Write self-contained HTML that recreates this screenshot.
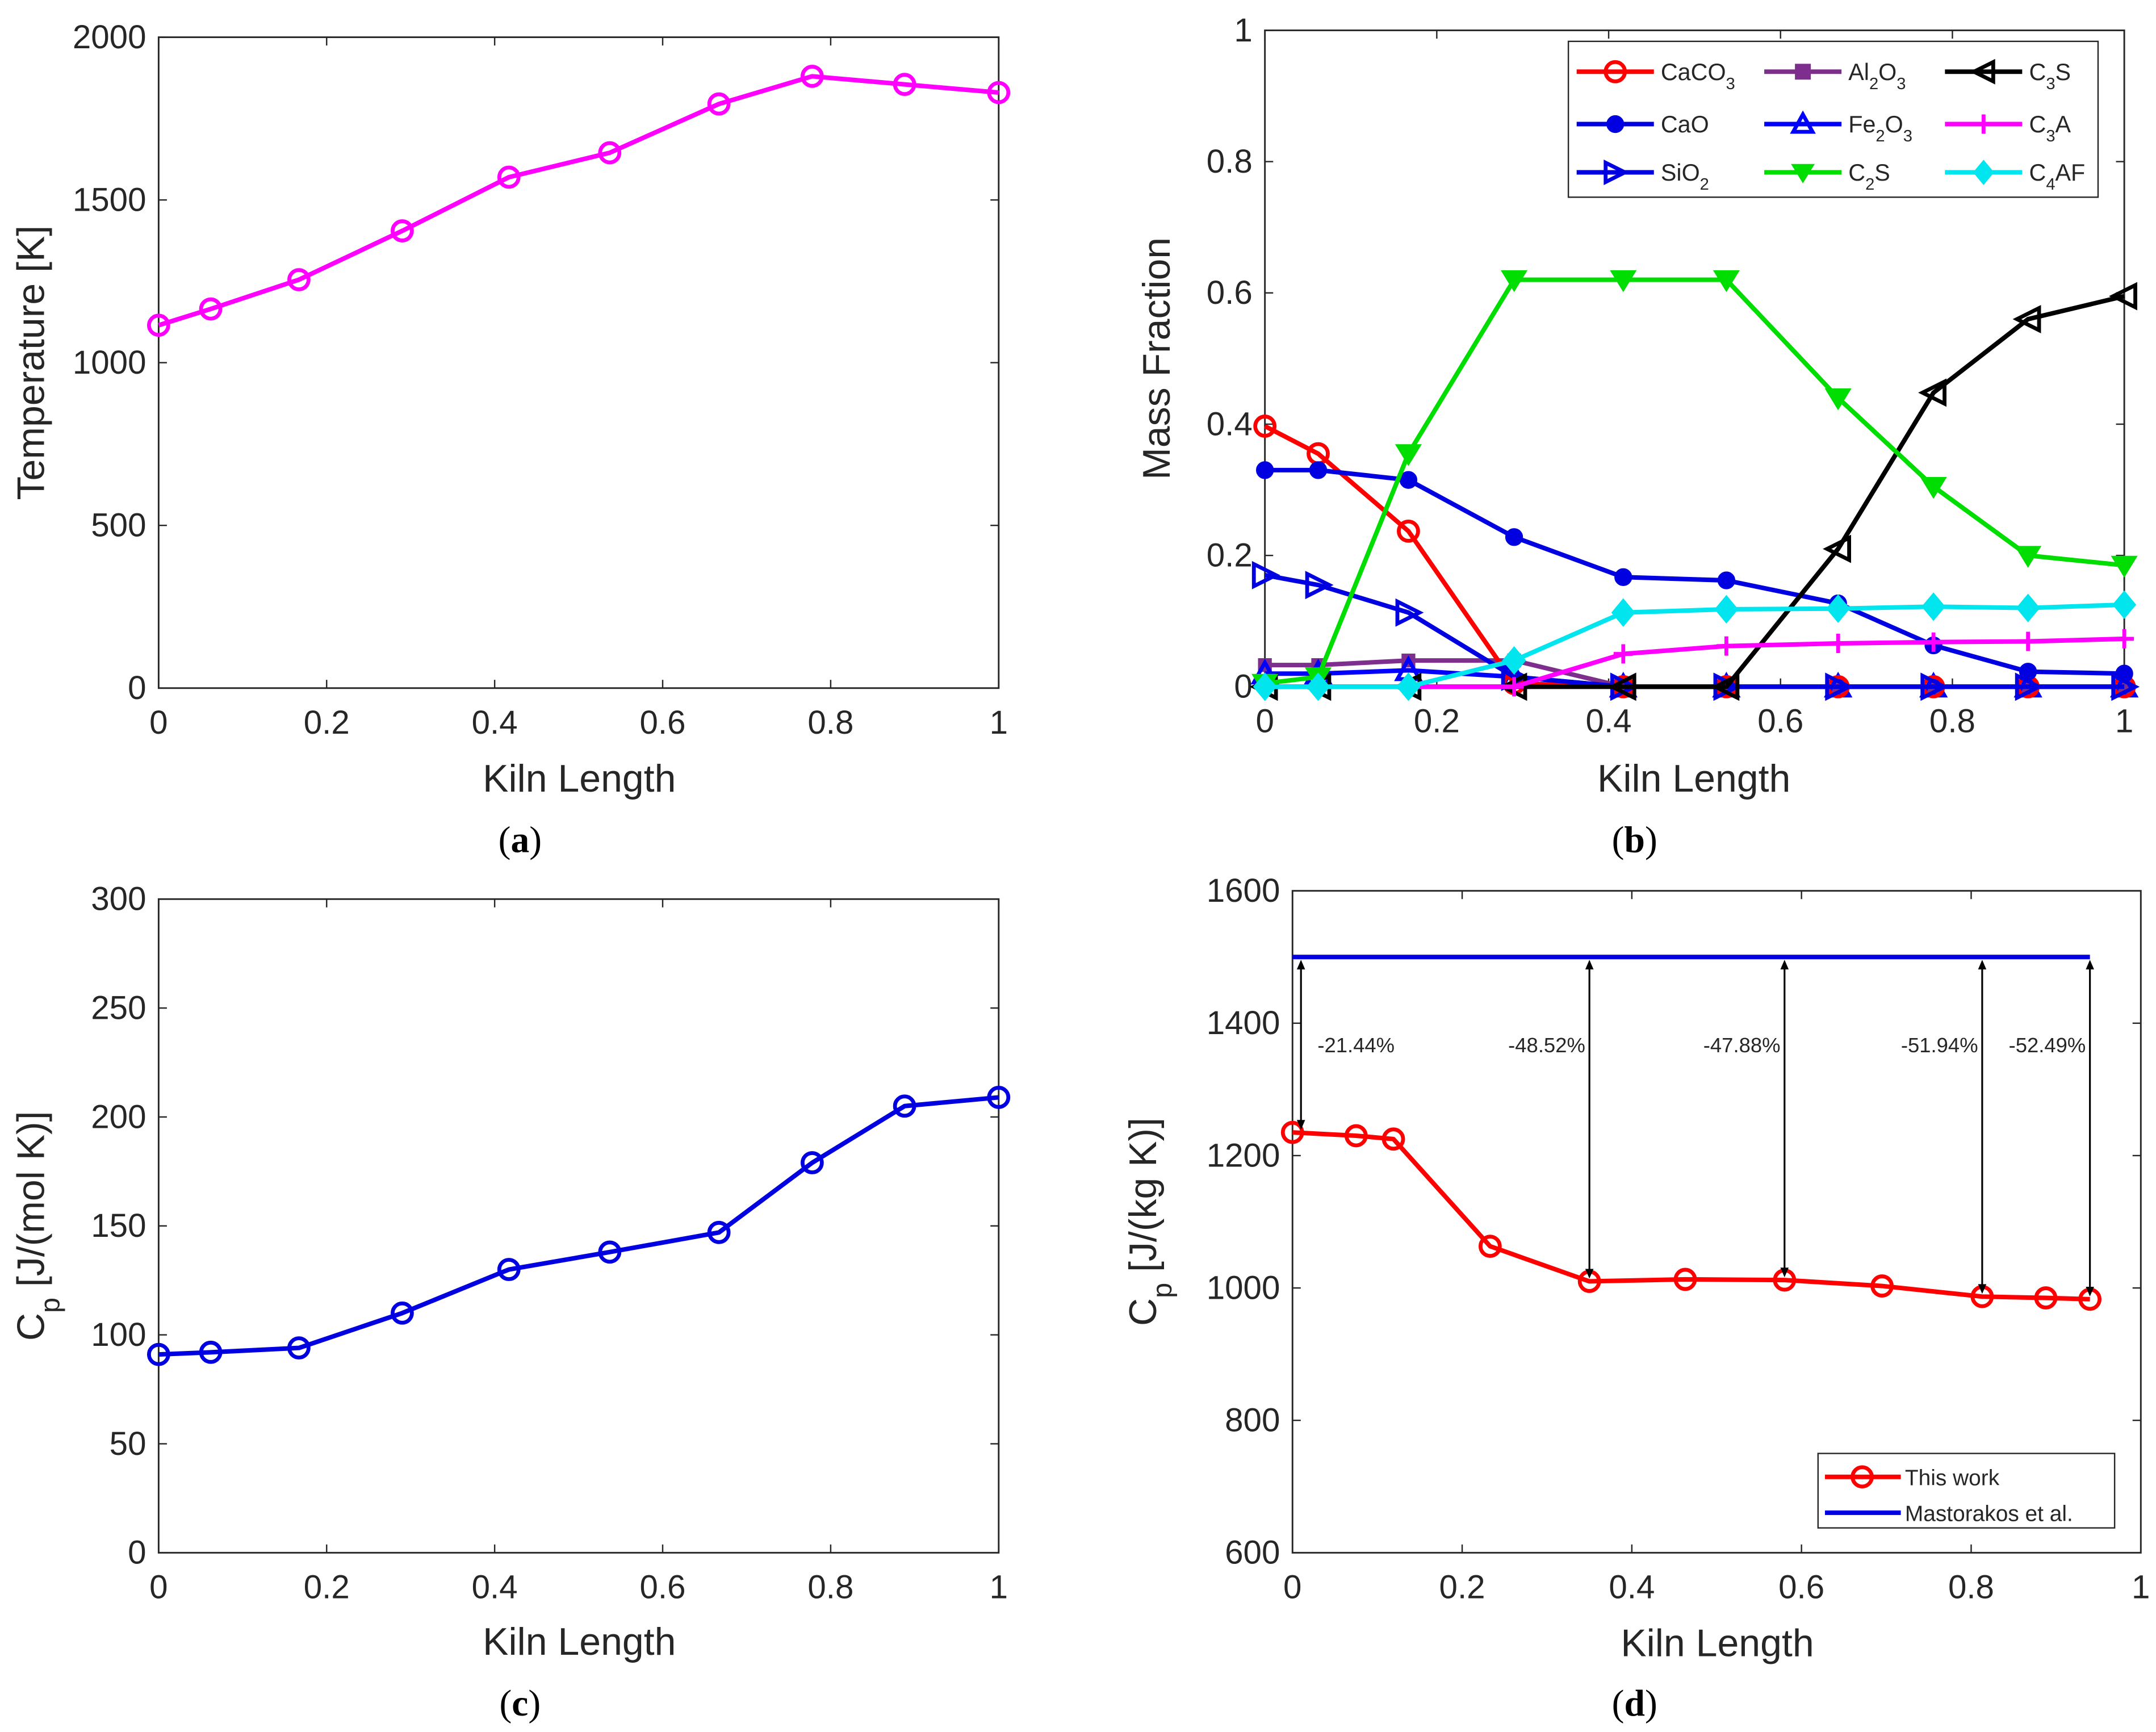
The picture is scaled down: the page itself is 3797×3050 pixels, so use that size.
<!DOCTYPE html>
<html><head><meta charset="utf-8">
<style>
html,body{margin:0;padding:0;background:#fff;}
svg{display:block;}
text{font-family:"Liberation Sans",sans-serif;fill:#262626;}
.cap{font-family:"Liberation Serif",serif;fill:#000;}
</style></head>
<body>
<svg id="fig" width="3797" height="3050" viewBox="0 0 1563 1256" preserveAspectRatio="none" xmlns="http://www.w3.org/2000/svg"></svg>
<script>
// ---- Panel (a) data ----
const xA = [0, 0.062, 0.167, 0.29, 0.417, 0.537, 0.667, 0.778, 0.888, 1];
const tempA = [1115, 1165, 1255, 1405, 1570, 1645, 1795, 1880, 1855, 1830];
const ticksA_x = [0, 0.2, 0.4, 0.6, 0.8, 1];
const ticksA_y = [0, 500, 1000, 1500, 2000];
// ---- Panel (b) data ----
const xB = [0, 0.062, 0.167, 0.29, 0.417, 0.537, 0.667, 0.778, 0.888, 1];
const caco3 = [0.397, 0.355, 0.237, 0.005, 0, 0, 0, 0, 0, 0];
const cao = [0.33, 0.33, 0.315, 0.228, 0.167, 0.162, 0.127, 0.063, 0.023, 0.02];
const sio2 = [0.17, 0.155, 0.113, 0.015, 0, 0, 0, 0, 0, 0];
const al2o3 = [0.033, 0.033, 0.04, 0.04, 0, 0, 0, 0, 0, 0];
const fe2o3 = [0.02, 0.02, 0.025, 0.015, 0, 0, 0, 0, 0, 0];
const c2s = [0.005, 0.015, 0.355, 0.62, 0.62, 0.62, 0.44, 0.305, 0.2, 0.185];
const c3s = [0, 0, 0, 0, 0, 0, 0.21, 0.448, 0.56, 0.595];
const c3a = [0, 0, 0, 0, 0.05, 0.062, 0.066, 0.068, 0.069, 0.073];
const c4af = [0, 0, 0, 0.04, 0.113, 0.118, 0.119, 0.122, 0.12, 0.125];
const ticksB_x = [0, 0.2, 0.4, 0.6, 0.8, 1];
const ticksB_y = [0, 0.2, 0.4, 0.6, 0.8, 1];
// ---- Panel (c) data ----
const xC = [0, 0.062, 0.167, 0.29, 0.417, 0.537, 0.667, 0.778, 0.888, 1];
const cpC = [91, 92, 94, 110, 130, 138, 147, 179, 205, 209];
const ticksC_y = [0, 50, 100, 150, 200, 250, 300];
// ---- Panel (d) data ----
const xD = [0, 0.075, 0.119, 0.233, 0.35, 0.463, 0.58, 0.695, 0.813, 0.888, 0.94];
const cpD = [1235, 1230, 1225, 1063, 1010, 1013, 1012, 1003, 987, 985, 983];
const refD = [1500, 1500];
const refDx = [0, 0.94];
const arrowX = [0.01, 0.35, 0.58, 0.813, 0.94];
const arrowLow = [1235, 1010, 1012, 987, 983];
const arrowLabels = ['-21.44%', '-48.52%', '-47.88%', '-51.94%', '-52.49%'];
const ticksD_x = [0, 0.2, 0.4, 0.6, 0.8, 1];
const ticksD_y = [600, 800, 1000, 1200, 1400, 1600];

const NS = 'http://www.w3.org/2000/svg';
const fig = document.getElementById('fig');
function el(tag, attrs, parent) {
  const e = document.createElementNS(NS, tag);
  for (const k in attrs) e.setAttribute(k, attrs[k]);
  (parent || fig).appendChild(e);
  return e;
}
function fmt(v){return String(Math.round(v*1000)/1000);}

function axes(name, x0, x1, y0, y1, xmin, xmax, ymin, ymax, xt, yt) {
  const g = el('g', {});
  
  
  const sx = v => x0 + (v - xmin) / (xmax - xmin) * (x1 - x0);
  const sy = v => y1 - (v - ymin) / (ymax - ymin) * (y1 - y0);
  const box = el('rect', {x: x0, y: y0, width: x1 - x0, height: y1 - y0, fill: 'none', stroke: '#262626', 'stroke-width': 1.2}, g);
  
  
  xt.forEach(v => {
    const x = sx(v);
    el('line', {x1: x, x2: x, y1: y1, y2: y1 - 6, stroke: '#262626', 'stroke-width': 1}, g);
    el('line', {x1: x, x2: x, y1: y0, y2: y0 + 6, stroke: '#262626', 'stroke-width': 1}, g);
    const t = el('text', {x: x, y: y1 + 33, 'font-size': 24, 'text-anchor': 'middle'}, g);
    
    
    t.textContent = fmt(v);
  });
  yt.forEach(v => {
    const y = sy(v);
    el('line', {x1: x0, x2: x0 + 6, y1: y, y2: y, stroke: '#262626', 'stroke-width': 1}, g);
    el('line', {x1: x1, x2: x1 - 6, y1: y, y2: y, stroke: '#262626', 'stroke-width': 1}, g);
    const t = el('text', {x: x0 - 9, y: y + 8, 'font-size': 24, 'text-anchor': 'end'}, g);
    
    
    t.textContent = fmt(v);
  });
  return {sx, sy, g};
}

function marker(type, x, y, color, g, s) {
  s = s || 7;
  let m;
  const sw = 2.8;
  if (type === 'o') m = el('circle', {cx: x, cy: y, r: s, fill: 'none', stroke: color, 'stroke-width': sw}, g);
  else if (type === 'dot') m = el('circle', {cx: x, cy: y, r: s * 0.85, fill: color, stroke: color}, g);
  else if (type === 'sq') m = el('rect', {x: x - s * 0.75, y: y - s * 0.75, width: s * 1.5, height: s * 1.5, fill: color, stroke: color}, g);
  else if (type === '>') m = el('polygon', {points: `${x - s},${y - s} ${x + s},${y} ${x - s},${y + s}`, fill: 'none', stroke: color, 'stroke-width': sw}, g);
  else if (type === '<') m = el('polygon', {points: `${x + s},${y - s} ${x - s},${y} ${x + s},${y + s}`, fill: 'none', stroke: color, 'stroke-width': sw}, g);
  else if (type === '^') m = el('polygon', {points: `${x - s},${y + s * 0.8} ${x},${y - s} ${x + s},${y + s * 0.8}`, fill: 'none', stroke: color, 'stroke-width': sw}, g);
  else if (type === 'v') m = el('polygon', {points: `${x - s * 1.1},${y - s * 0.8} ${x},${y + s} ${x + s * 1.1},${y - s * 0.8}`, fill: color, stroke: color, 'stroke-width': 1}, g);
  else if (type === '+') m = el('path', {d: `M${x - s},${y}H${x + s}M${x},${y - s}V${y + s}`, stroke: color, 'stroke-width': sw, fill: 'none'}, g);
  else if (type === 'd') m = el('polygon', {points: `${x},${y - s * 1.2} ${x + s},${y} ${x},${y + s * 1.2} ${x - s},${y}`, fill: color, stroke: color}, g);
  
  
}

function series(name, ax, xs, ys, color, mk, s) {
  const g = el('g', {});
  
  
  const pts = xs.map((v, i) => ax.sx(v) + ',' + ax.sy(ys[i])).join(' ');
  const pl = el('polyline', {points: pts, fill: 'none', stroke: color, 'stroke-width': 3.3, 'stroke-linejoin': 'round'}, g);
  
  
  if (mk) xs.forEach((v, i) => marker(mk, ax.sx(v), ax.sy(ys[i]), color, g, s));
}

function label(txt, x, y, rot, name, size, cls) {
  const t = el('text', {x: x, y: y, 'font-size': size || 28, 'text-anchor': 'middle'});
  if (rot) t.setAttribute('transform', `rotate(-90 ${x} ${y})`);
  if (cls) t.setAttribute('class', cls);
  
  
  t.innerHTML = txt;
  return t;
}

// Panel a
const A = axes('panel-a-axes', 115, 724, 27, 499, 0, 1, 0, 2000, ticksA_x, ticksA_y);
series('temperature-series', A, xA, tempA, '#ff00ff', 'o', 7);
label('Temperature [K]', 32, 263, true, 'y-axis-title-a');
label('Kiln Length', 420, 574, false, 'x-axis-title-a');
label('(<tspan font-weight="bold">a</tspan>)', 377, 618, false, 'caption-a', 27, 'cap');

// Panel b
const B = axes('panel-b-axes', 917, 1540, 22, 498, 0, 1, 0, 1, ticksB_x, ticksB_y);
series('al2o3-series', B, xB, al2o3, '#7e2f8e', 'sq', 6);
series('fe2o3-series', B, xB, fe2o3, '#0000ff', '^', 8);
series('caco3-series', B, xB, caco3, '#ff0000', 'o', 7);
series('cao-series', B, xB, cao, '#0000e0', 'dot', 7);
series('sio2-series', B, xB, sio2, '#0000e0', '>', 8);
series('c3s-series', B, xB, c3s, '#000000', '<', 8);
series('c2s-series', B, xB, c2s, '#00dd00', 'v', 8);
series('c3a-series', B, xB, c3a, '#ff00ff', '+', 7);
series('c4af-series', B, xB, c4af, '#00e5ee', 'd', 8);
label('Mass Fraction', 848, 260, true, 'y-axis-title-b');
label('Kiln Length', 1228, 574, false, 'x-axis-title-b');
label('(<tspan font-weight="bold">b</tspan>)', 1185, 618, false, 'caption-b', 27, 'cap');

// legend b
const lg = el('g', {});


el('rect', {x: 1137, y: 30, width: 384, height: 113, fill: '#fff', stroke: '#262626', 'stroke-width': 1}, lg);
const legItems = [
  ['CaCO<tspan baseline-shift="sub" font-size="12">3</tspan>', '#ff0000', 'o', 0, 0],
  ['Al<tspan baseline-shift="sub" font-size="12">2</tspan>O<tspan baseline-shift="sub" font-size="12">3</tspan>', '#7e2f8e', 'sq', 1, 0],
  ['C<tspan baseline-shift="sub" font-size="12">3</tspan>S', '#000000', '<', 2, 0],
  ['CaO', '#0000e0', 'dot', 0, 1],
  ['Fe<tspan baseline-shift="sub" font-size="12">2</tspan>O<tspan baseline-shift="sub" font-size="12">3</tspan>', '#0000ff', '^', 1, 1],
  ['C<tspan baseline-shift="sub" font-size="12">3</tspan>A', '#ff00ff', '+', 2, 1],
  ['SiO<tspan baseline-shift="sub" font-size="12">2</tspan>', '#0000e0', '>', 0, 2],
  ['C<tspan baseline-shift="sub" font-size="12">2</tspan>S', '#00dd00', 'v', 1, 2],
  ['C<tspan baseline-shift="sub" font-size="12">4</tspan>AF', '#00e5ee', 'd', 2, 2]
];
const colX = [1143, 1279, 1410];
const rowY = [52, 90, 125];
legItems.forEach(it => {
  const g = el('g', {}, lg);
  
  
  const x = colX[it[3]], y = rowY[it[4]];
  el('line', {x1: x, x2: x + 56, y1: y, y2: y, stroke: it[1], 'stroke-width': 3.3}, g);
  marker(it[2], x + 28, y, it[1], g, 7);
  const t = el('text', {x: x + 61, y: y + 6, 'font-size': 17}, g);
  t.innerHTML = it[0];
});

// Panel c
const C = axes('panel-c-axes', 115, 724, 652, 1126, 0, 1, 0, 300, ticksA_x, ticksC_y);
series('cp-molar-series', C, xC, cpC, '#0000e0', 'o', 7);
label('C<tspan baseline-shift="sub" font-size="20">p</tspan> [J/(mol K)]', 32, 889, true, 'y-axis-title-c');
label('Kiln Length', 420, 1200, false, 'x-axis-title-c');
label('(<tspan font-weight="bold">c</tspan>)', 377, 1244, false, 'caption-c', 27, 'cap');

// Panel d
const D = axes('panel-d-axes', 937, 1552, 646, 1126, 0, 1, 600, 1600, ticksD_x, ticksD_y);
series('mastorakos-series', D, refDx, refD, '#0000e0', null);
series('this-work-series', D, xD, cpD, '#ff0000', 'o', 7);
arrowX.forEach((v, i) => {
  const g = el('g', {});
  
  
  const x = D.sx(v), yt = D.sy(refD[0]) + 2, yb = D.sy(arrowLow[i]) - 2;
  el('line', {x1: x, x2: x, y1: yt + 5, y2: yb - 5, stroke: '#000', 'stroke-width': 1.3}, g);
  el('polygon', {points: `${x - 3},${yt + 7} ${x},${yt} ${x + 3},${yt + 7}`, fill: '#000'}, g);
  el('polygon', {points: `${x - 3},${yb - 7} ${x},${yb} ${x + 3},${yb - 7}`, fill: '#000'}, g);
  const t = el('text', {x: x - 3, y: 763, 'font-size': 15, 'text-anchor': 'end', fill: '#000'}, g);
  if (i === 0) { t.setAttribute('text-anchor', 'start'); t.setAttribute('x', x + 12); }
  
  
  t.textContent = arrowLabels[i];
});
label('C<tspan baseline-shift="sub" font-size="20">p</tspan> [J/(kg K)]', 838, 886, true, 'y-axis-title-d');
label('Kiln Length', 1245, 1201, false, 'x-axis-title-d');
label('(<tspan font-weight="bold">d</tspan>)', 1185, 1244, false, 'caption-d', 27, 'cap');

// legend d
const ld = el('g', {});


el('rect', {x: 1318, y: 1054, width: 215, height: 54, fill: '#fff', stroke: '#262626', 'stroke-width': 1}, ld);
const e1 = el('g', {}, ld);


el('line', {x1: 1323, x2: 1378, y1: 1071, y2: 1071, stroke: '#ff0000', 'stroke-width': 3.3}, e1);
marker('o', 1350, 1071, '#ff0000', e1, 7);
const t1 = el('text', {x: 1381, y: 1077, 'font-size': 16}, e1); t1.textContent = 'This work';
const e2 = el('g', {}, ld);


el('line', {x1: 1323, x2: 1378, y1: 1097, y2: 1097, stroke: '#0000e0', 'stroke-width': 3.3}, e2);
const t2 = el('text', {x: 1381, y: 1103, 'font-size': 16}, e2); t2.textContent = 'Mastorakos et al.';
</script>
</body></html>
